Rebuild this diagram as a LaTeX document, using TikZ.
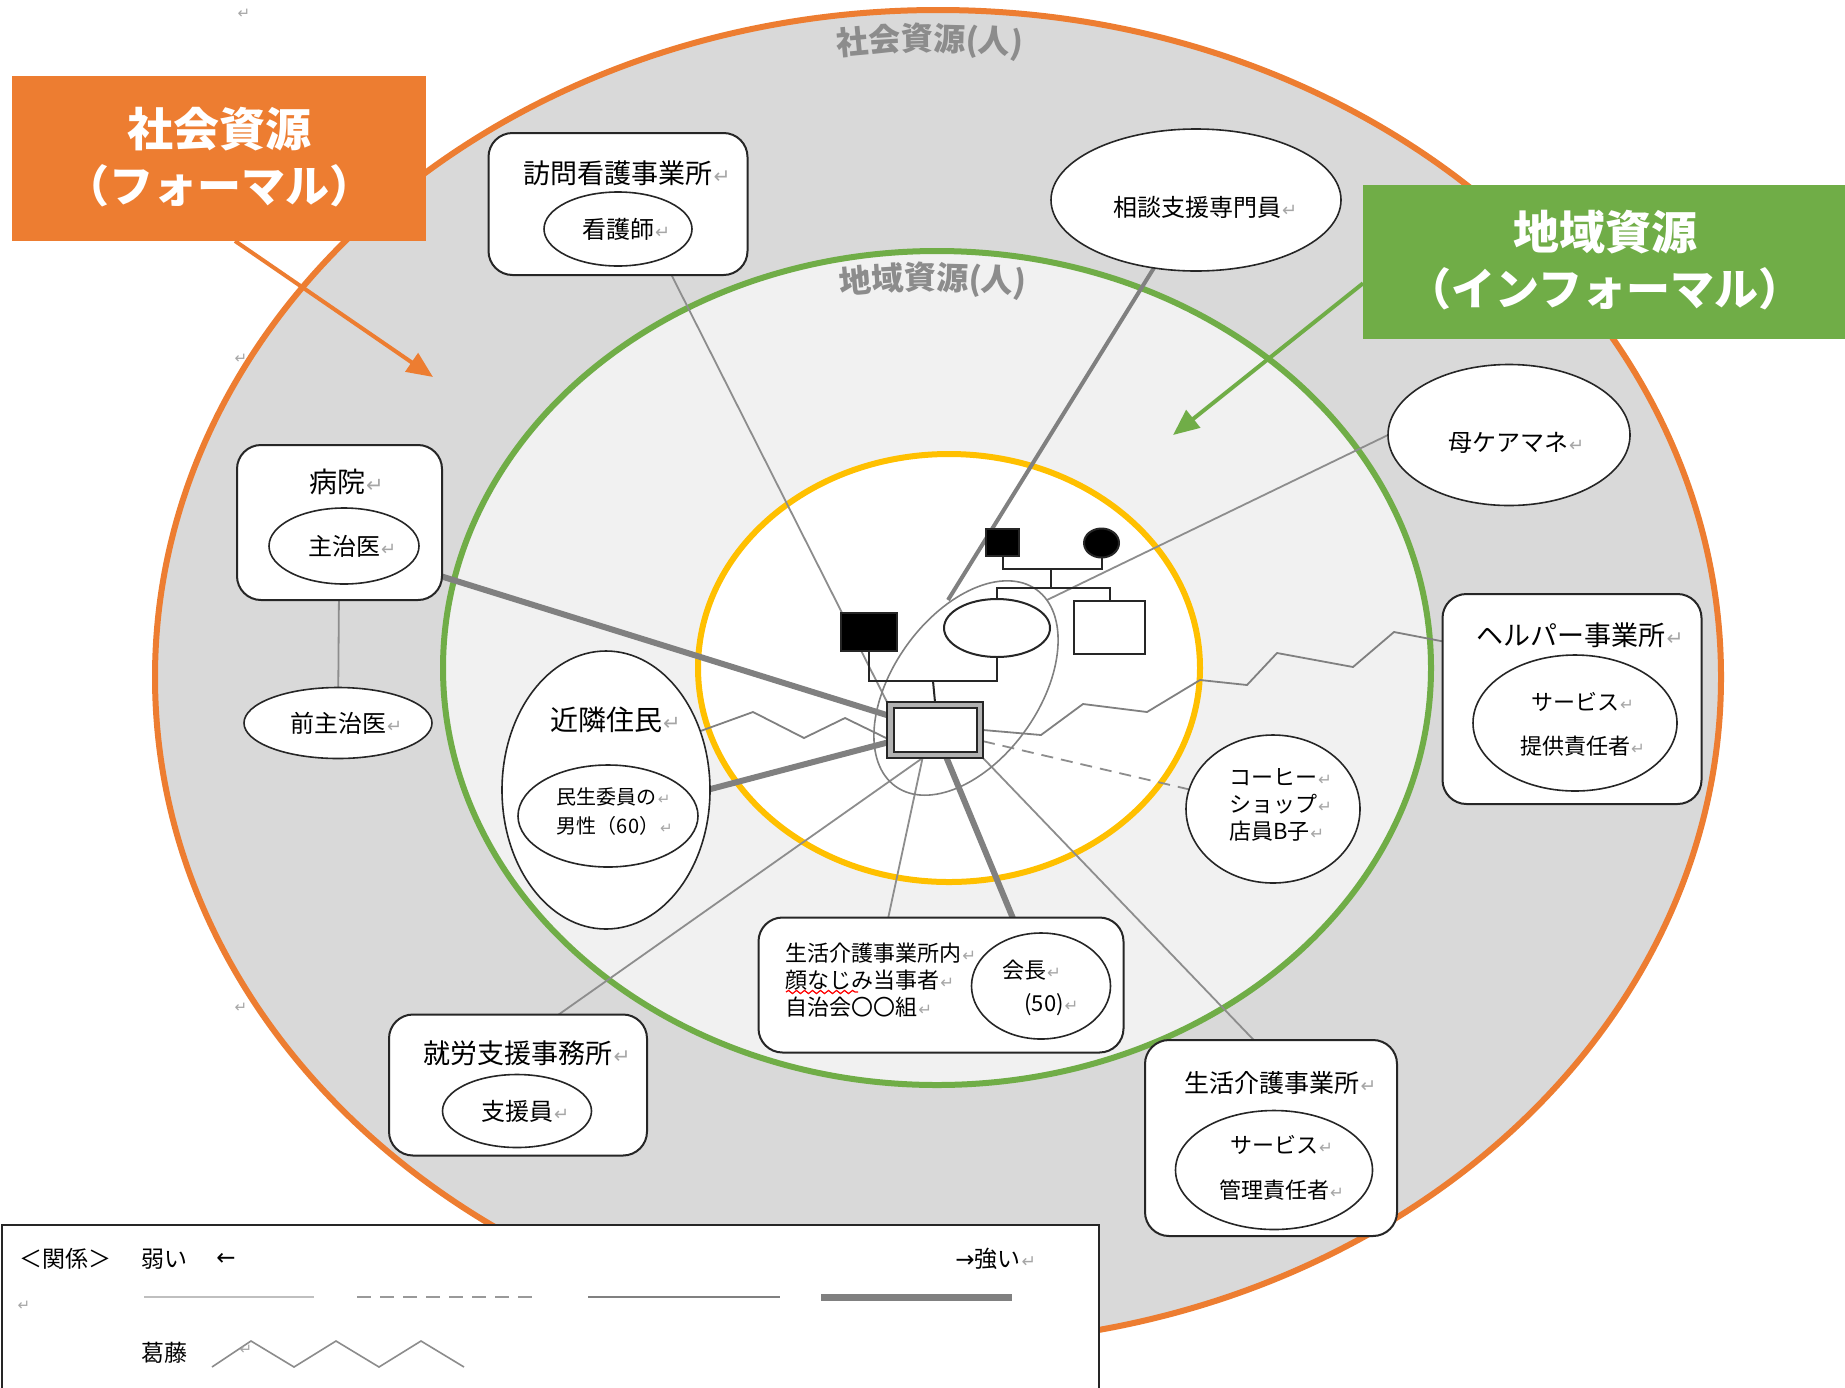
\documentclass[tikz,border=0pt]{standalone}
\usepackage{fontspec}
\setmainfont{Noto Sans CJK JP}
\newfontfamily\symf{DejaVu Sans}
\usetikzlibrary{shapes.geometric,arrows.meta,decorations.text,decorations.pathmorphing}
\definecolor{ored}{HTML}{ED7D31}
\definecolor{ggreen}{HTML}{70AD47}
\definecolor{yyellow}{HTML}{FFC000}
\definecolor{bggray}{HTML}{D9D9D9}
\definecolor{ingray}{HTML}{F1F1F1}
\definecolor{lgray}{HTML}{808080}
\definecolor{retgray}{HTML}{A6A6A6}
\definecolor{toplab}{HTML}{8C8C8C}
\newcommand\retmark{\rlap{\kern0.5pt\textcolor{retgray}{\symf\scalebox{0.75}{↵}}}}
\newcommand\retmarkc{\textcolor{retgray}{\symf\scalebox{0.75}{↵}}}
\pgfdeclarelayer{bg}
\pgfdeclarelayer{lines}
\pgfsetlayers{bg,lines,main}
\tikzset{
  rbox/.style={draw=black!85, line width=1pt, rounded corners=12pt, fill=white, inner sep=0pt, outer sep=0pt},
  oval/.style={ellipse, draw=black!85, line width=0.8pt, fill=white, inner sep=0pt, outer sep=0pt},
  lab/.style={inner sep=0pt, font=\fontsize{12}{14}\selectfont},
  sml/.style={inner sep=0pt, font=\fontsize{11}{13}\selectfont},
  ttl/.style={inner sep=0pt, font=\fontsize{13.5}{16}\selectfont},
  weak/.style={draw=lgray!90, line width=0.9pt},
  midl/.style={draw=lgray, line width=2pt},
  strong/.style={draw=lgray, line width=3pt},
  dashl/.style={draw=lgray!90, line width=0.9pt, dash pattern=on 6pt off 4pt},
  zig/.style={draw=lgray, line width=0.9pt, line join=miter},
  gblack/.style={draw=black!85, line width=1pt, fill=black, inner sep=0pt, outer sep=0pt},
  gwhite/.style={draw=black!85, line width=1pt, fill=white, inner sep=0pt, outer sep=0pt},
  gline/.style={draw=black!85, line width=1pt},
  bigarrow/.style={line width=2pt, -{Triangle[length=13pt,width=11pt]}},
  lg/.style={inner sep=0pt, font=\fontsize{11.5}{13}\selectfont},
}
\begin{document}
\begin{tikzpicture}[x=0.5pt,y=-0.5pt]
\useasboundingbox (0,0) rectangle (1845,1387);
\begin{pgfonlayer}{bg}
  \fill[white] (0,0) rectangle (1845,1387);
  \draw[ored, line width=3pt, fill=bggray] (938,677) ellipse [x radius=391.5pt, y radius=333.5pt];
  \draw[ggreen, line width=3pt, fill=ingray] (937,668) ellipse [x radius=247pt, y radius=208.5pt];
  \draw[yyellow, line width=3pt, fill=white] (949,668) ellipse [x radius=125.5pt, y radius=107pt];
  \path[decorate, decoration={text along path, text color=toplab, text align=center,
     text={|\bfseries\fontsize{16}{16}\selectfont|社会資源(人)}}] (810,59) to[bend left=7] (1050,59);
  \path[decorate, decoration={text along path, text color=toplab, text align=center,
     text={|\bfseries\fontsize{16}{16}\selectfont|地域資源(人)}}] (813,298) to[bend left=7] (1053,298);
\end{pgfonlayer}

% paragraph marks on the left
\node[inner sep=0] (pm1) at (244,14) {\retmarkc};
\node[inner sep=0] (pm2) at (241,359) {\retmarkc};
\node[inner sep=0] (pm3) at (241,1008) {\retmarkc};

% ---- nodes ----
\node[rbox, minimum width=129.5pt, minimum height=71pt] (houmon) at (618,204) {};
\node[ttl] (houmonT) at (618,173) {訪問看護事業所\retmark};
\node[oval, lab, minimum width=74pt, minimum height=37pt] (kangoshi) at (618,229) {看護師\retmark};

\node[oval, minimum width=145pt, minimum height=71pt] (soudan) at (1196,200) {};
\node[lab] (soudanT) at (1197,207) {相談支援専門員\retmark};

\node[oval, minimum width=121pt, minimum height=70.5pt] (mama) at (1509,435) {};
\node[lab] (mamaT) at (1508,443) {母ケアマネ\retmark};

\node[rbox, minimum width=129.5pt, minimum height=105pt] (helper) at (1572,699) {};
\node[ttl] (helperT) at (1571,635) {ヘルパー事業所\retmark};
\node[oval, minimum width=102pt, minimum height=68pt] (helperIn) at (1575,723) {};
\node[inner sep=0pt, font=\fontsize{11}{22}\selectfont, align=center] (helperInT) at (1575,724) {サービス\retmark\\提供責任者\retmark};

\node[rbox, minimum width=102.5pt, minimum height=77.5pt] (byoin) at (339.5,522.5) {};
\node[ttl, font=\fontsize{14}{16}\selectfont] (byoinT) at (337,482) {病院\retmark};
\node[oval, lab, minimum width=75pt, minimum height=38pt] (shujii) at (344,546) {主治医\retmark};

\node[oval, lab, minimum width=94pt, minimum height=35.5pt] (maeshujii) at (338,723) {前主治医\retmark};

\node[oval, minimum width=104pt, minimum height=139pt] (kinrin) at (606,790) {};
\node[ttl, font=\fontsize{14}{16}\selectfont] (kinrinT) at (606,720) {近隣住民\retmark};
\node[oval, minimum width=90pt, minimum height=51pt] (minsei) at (608,816) {};
\node[inner sep=0pt, font=\fontsize{10}{14.5}\selectfont, align=left] (minseiT) at (608,812) {民生委員の\retmark\\男性（60）\retmark};

\node[oval, minimum width=87pt, minimum height=74pt] (coffee) at (1273,809) {};
\node[inner sep=0pt, font=\fontsize{11}{13.5}\selectfont, align=left] (coffeeT) at (1273,805) {コーヒー\retmark\\ショップ\retmark\\店員B子\retmark};

\node[rbox, minimum width=182.5pt, minimum height=67.5pt] (nai) at (941,985) {};
\node[inner sep=0pt, font=\fontsize{11}{13.5}\selectfont, align=left, anchor=west] (naiT) at (785,980) {生活介護事業所内\retmark\\顔なじみ当事者\retmark\\自治会〇〇組\retmark};
\draw[red, line width=0.6pt, decorate, decoration={snake, amplitude=0.8pt, segment length=4pt}] (786,992) -- (858,992);
\node[oval, minimum width=69.5pt, minimum height=53pt] (kaicho) at (1041,986) {};
\node[sml] (kaichoT1) at (1024,970) {会長\retmark};
\node[sml] (kaichoT2) at (1044,1005) {(50)\retmark};

\node[rbox, minimum width=129pt, minimum height=70.5pt] (shuro) at (518,1085) {};
\node[ttl] (shuroT) at (518,1053) {就労支援事務所\retmark};
\node[oval, lab, minimum width=74.5pt, minimum height=36.5pt] (shienin) at (517,1111) {支援員\retmark};

\node[rbox, minimum width=126pt, minimum height=98pt] (seikatsu) at (1271,1138) {};
\node[ttl, font=\fontsize{12.5}{15}\selectfont] (seikatsuT) at (1272,1083) {生活介護事業所\retmark};
\node[oval, minimum width=98.5pt, minimum height=59.5pt] (seikatsuIn) at (1274,1170) {};
\node[inner sep=0pt, font=\fontsize{11}{22.5}\selectfont, align=center] (seikatsuInT) at (1274,1168) {サービス\retmark\\管理責任者\retmark};

% ---- genogram ----
\node[gblack, minimum width=16.5pt, minimum height=13.5pt] (father) at (1002.5,542.5) {};
\node[gblack, ellipse, minimum width=17.5pt, minimum height=14.5pt] (mother) at (1101.5,543) {};
\node[gwhite, ellipse, minimum width=53pt, minimum height=29pt] (wife) at (997,628) {};
\node[gwhite, minimum width=35.5pt, minimum height=26.5pt] (brother) at (1109.5,627.5) {};
\node[gblack, minimum width=28pt, minimum height=19pt] (husband) at (869,632) {};
\node[draw=black!85, line width=0.8pt, fill=gray!60, minimum width=48pt, minimum height=28pt, inner sep=0pt, outer sep=0pt] (client) at (935,730) {};
\node[draw=black!85, line width=0.8pt, fill=white, minimum width=41.5pt, minimum height=22pt, inner sep=0pt] (clientIn) at (935.5,730) {};
\node[ellipse, draw=lgray, line width=0.8pt, minimum width=121pt, minimum height=73pt, rotate=54.4, inner sep=0pt] (household) at (966,688) {};
\coordinate (pmid) at (1051,569);
\coordinate (smid) at (1051,588);
\coordinate (mmid) at (933,681);
\draw[gline] (father.south) |- (pmid) -| (mother.south);
\draw[gline] (pmid) -- (smid);
\draw[gline] (wife.north) |- (smid) -| (brother.north);
\draw[gline] (husband.south) |- (mmid) -| (wife.south);
\draw[gline] (mmid) -- (client.north);

\coordinate (hhA) at (948,600);
\coordinate (hhB) at (1047,600);

% ---- connectors ----
\begin{pgfonlayer}{lines}
  \draw[weak] (houmon.307) -- (client.north west);
  \draw[midl] (soudan) -- (hhA);
  \draw[weak] (mama.west) -- (hhB);
  \draw[strong] (shujii) -- (client);
  \draw[strong] (minsei) -- (client);
  \draw[strong] (kaicho) -- (client);
  \draw[weak] (nai.128) -- (client.246);
  \draw[weak] (shuro.60) -- (client.246);
  \draw[weak] (seikatsu.100) -- (client.south east);
  \draw[dashl] (client) -- (coffee);
  \draw[weak] (byoin) -- (maeshujii);
  \draw[zig] (kinrin.32) -- (753,712) -- (804,738) -- (845,718) -- (client.190);
  \draw[zig] (client.east) -- (1041,735) -- (1083,704) -- (1147,712) -- (1200,680) -- (1247,685) -- (1277,653) -- (1353,667) -- (1394,632) -- (helper.156);
\end{pgfonlayer}

% ---- label boxes ----
\node[fill=ored, minimum width=207pt, minimum height=82.5pt, inner sep=0pt, outer sep=0pt] (obox) at (219,158.5) {};
\node[text=white, inner sep=0pt, align=center, font=\bfseries\fontsize{22}{28}\selectfont] (oboxT) at (219,157) {{\fontsize{23}{28}\selectfont 社会資源}\\{\fontsize{22}{28}\selectfont （フォーマル）}};
\coordinate (oarr) at (433,377);
\draw[ored, bigarrow] (obox.281) -- (oarr);

\node[fill=ggreen, minimum width=243.5pt, minimum height=77pt, inner sep=0pt, outer sep=0pt] (gbox) at (1606.5,262) {};
\node[text=white, inner sep=0pt, align=center, font=\bfseries\fontsize{22}{28}\selectfont] (gboxT) at (1605,260) {{\fontsize{23}{28}\selectfont 地域資源}\\{\fontsize{22}{28}\selectfont （インフォーマル）}};
\coordinate (garr) at (1173,435);
\draw[ggreen, bigarrow] (gbox.185) -- (garr);

% ---- legend ----
\node[draw=black!85, line width=1pt, fill=white, minimum width=548.5pt, minimum height=92pt, inner sep=0pt, anchor=north west] (legend) at (1,1224) {};
\node[lg] (lgK) at (65,1259) {＜関係＞};
\node[lg] (lgW) at (164,1259) {弱い};
\node[lg] (lgL) at (226,1259) {{\symf ←}};
\node[lg] (lgS) at (988,1259) {{\symf →}強い\retmark};
\node[inner sep=0pt] (lgR) at (24,1306) {\retmarkc};
\node[lg] (lgC) at (164,1353) {葛藤};
\draw[draw=black!25, line width=1.2pt] (144,1297) -- (314,1297);
\draw[draw=black!40, line width=1.2pt, dash pattern=on 7pt off 4.5pt] (357,1297) -- (541,1297);
\draw[draw=black!50, line width=1.3pt] (588,1297) -- (780,1297);
\draw[draw=black!50, line width=3.5pt] (821,1297) -- (1012,1297);
\draw[draw=black!45, line width=0.8pt] (212,1367) -- (251,1341) -- (294,1367) -- (336,1341) -- (379,1367) -- (421,1341) -- (464,1367);
\node[inner sep=0pt] (lgZ) at (246,1350) {\retmarkc};
\end{tikzpicture}
\end{document}
